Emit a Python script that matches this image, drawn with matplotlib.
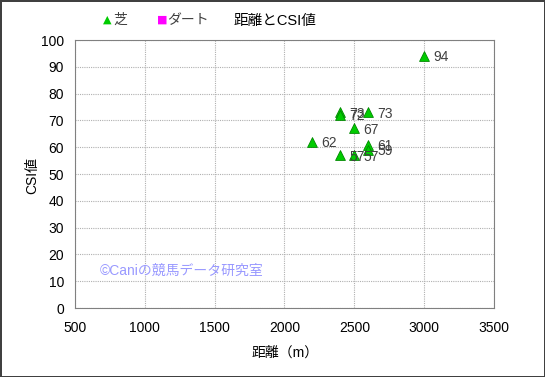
import matplotlib
matplotlib.use('Agg')
import matplotlib.pyplot as plt

plt.rcParams['font.family'] = ['Liberation Sans', 'Noto Sans CJK JP', 'DejaVu Sans']

# データ（芝）
dist = [3000, 2400, 2400, 2600, 2500, 2200, 2600, 2600, 2400, 2500]
csi = [94, 73, 72, 73, 67, 62, 61, 59, 57, 57]

xticks = [500, 1000, 1500, 2000, 2500, 3000, 3500]
yticks = list(range(0, 101, 10))

fig = plt.figure(figsize=(5.45, 3.77), dpi=100)
fig.patch.set_edgecolor('#404040')
fig.patch.set_linewidth(2)
ax = fig.add_axes([75/545, 1 - 308/377, (494-75)/545, (308-40)/377])

ax.scatter(dist, csi, marker='^', s=50, c='#00cc00', edgecolors='#008800',
           linewidths=0.6, zorder=3)
for x, y in zip(dist, csi):
    ax.annotate(str(y), (x, y), xytext=(6.5, -1), textcoords='offset points',
                fontsize=10, color='#404040', va='center', zorder=4)

ax.set_xlim(500, 3500)
ax.set_ylim(0, 100)
ax.set_xticks(xticks)
ax.set_yticks(yticks)
ax.tick_params(axis='y', length=0, labelsize=10, pad=8)
ax.tick_params(axis='x', length=0, labelsize=10, pad=9)
ax.grid(True, color='#b0b0b0', linestyle=(0, (1, 1)), linewidth=0.8)
for sp in ax.spines.values():
    sp.set_color('#808080')

ax.set_xlabel('距離（m）', fontsize=10)
ax.set_ylabel('CSI値', fontsize=10)
ax.xaxis.set_label_coords((285 - 75) / 419, -(346 - 308) / 268)
ax.yaxis.set_label_coords(-(75 - 39) / 419, (308 - 175) / 268)

fig.text(275/545, 1 - 21/377, '距離とCSI値', fontsize=10.5, ha='center', va='center')
fig.text(103/545, 1 - 20/377, '▲', fontsize=8, color='#00cc00', ha='left', va='center',
         family=['DejaVu Sans'])
fig.text(113/545, 1 - 20/377, '芝', fontsize=10, color='#404040', ha='left', va='center')
fig.text(157/545, 1 - 20/377, '■', fontsize=8, color='#ff00ff', ha='left', va='center',
         family=['DejaVu Sans'])
fig.text(167/545, 1 - 20/377, 'ダート', fontsize=10, color='#404040', ha='left', va='center')

fig.text(100/545, 1 - 271/377, '©Caniの競馬データ研究室', fontsize=10, color='#9999ff',
         ha='left', va='center')

fig.savefig('out.png', dpi=100, edgecolor=fig.get_edgecolor())
